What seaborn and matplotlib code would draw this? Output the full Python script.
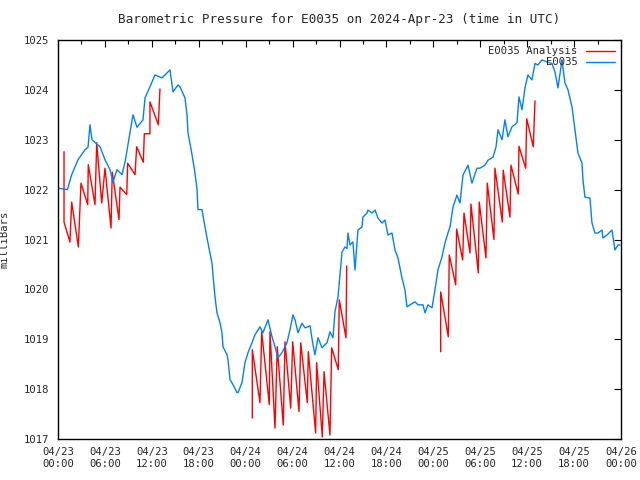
import matplotlib
matplotlib.use("Agg")
import matplotlib.pyplot as plt
import matplotlib.dates as mdates
import seaborn as sns
import pandas as pd
import numpy as np
from matplotlib.lines import Line2D

# station obs (hours after 2024-04-23 00:00 UTC, mb)
obs_hours = [0.0, 1.2, 1.75, 2.56, 3.45, 3.84, 4.09, 4.35, 5.37, 6.01, 6.65, 7.03, 7.54, 8.18,
             8.57, 8.95, 9.59, 10.1, 10.87, 11.13, 11.76, 12.4, 13.3, 13.68, 14.32, 14.71, 15.35,
             15.6, 16.24, 16.5, 16.62, 17.14, 17.52, 17.78, 17.9, 18.41, 18.8, 19.18, 19.69, 19.82,
             20.08, 20.33, 20.72, 20.97, 21.1, 21.61, 21.74, 22.0, 22.38, 22.89, 23.02, 23.53,
             23.91, 24.3, 24.81, 25.19, 25.83, 26.21, 26.85, 27.37, 27.75, 28.13, 28.64, 29.28,
             29.67, 30.05, 30.31, 30.69, 31.2, 31.59, 31.97, 32.23, 32.61, 32.86, 33.25, 33.76,
             34.4, 34.78, 35.17, 35.42, 35.81, 36.06, 36.32, 36.7, 36.96, 37.08, 37.34, 37.72,
             37.98, 38.24, 38.36, 38.87, 39.0, 39.51, 39.64, 40.15, 40.54, 40.92, 41.43, 41.82,
             42.2, 42.71, 43.1, 43.48, 43.99, 44.37, 44.63, 45.01, 45.65, 46.04, 46.68, 46.93,
             47.31, 47.83, 48.21, 48.59, 49.1, 49.49, 49.87, 50.13, 50.51, 51.02, 51.41, 51.79,
             52.43, 52.94, 53.58, 53.96, 54.6, 54.99, 55.63, 56.01, 56.27, 56.78, 57.16, 57.54,
             58.06, 58.7, 58.95, 59.34, 59.72, 60.1, 60.61, 61.0, 61.38, 61.89, 62.53, 63.17,
             63.55, 63.94, 64.45, 64.83, 65.22, 65.73, 66.11, 66.5, 67.01, 67.14, 67.39, 68.03,
             68.29, 68.67, 69.05, 69.57, 69.69, 70.2, 70.84, 71.23, 71.61, 71.87]
obs_mb = [1022.03, 1022.0, 1022.3, 1022.6, 1022.8, 1022.85, 1023.3, 1023.0, 1022.86, 1022.6,
          1022.4, 1022.15, 1022.4, 1022.3, 1022.55, 1022.9, 1023.5, 1023.25, 1023.4, 1023.84,
          1024.06, 1024.3, 1024.24, 1024.3, 1024.4, 1023.96, 1024.1, 1024.06, 1023.84, 1023.5,
          1023.14, 1022.7, 1022.33, 1022.0, 1021.6, 1021.6, 1021.25, 1020.93, 1020.53, 1020.29,
          1019.85, 1019.53, 1019.33, 1019.13, 1018.85, 1018.69, 1018.59, 1018.19, 1018.09,
          1017.93, 1017.93, 1018.13, 1018.53, 1018.73, 1018.93, 1019.09, 1019.25, 1019.13,
          1019.39, 1019.05, 1018.85, 1018.63, 1018.73, 1018.93, 1019.19, 1019.49, 1019.39,
          1019.13, 1019.32, 1019.23, 1019.25, 1019.27, 1018.89, 1018.69, 1019.03, 1018.83,
          1018.93, 1019.15, 1019.03, 1019.55, 1019.85, 1020.3, 1020.75, 1020.85, 1020.82,
          1021.13, 1020.89, 1020.95, 1020.39, 1020.93, 1021.19, 1021.25, 1021.45, 1021.53,
          1021.59, 1021.53, 1021.59, 1021.43, 1021.33, 1021.39, 1021.09, 1021.13, 1020.79,
          1020.63, 1020.23, 1019.99, 1019.65, 1019.69, 1019.75, 1019.69, 1019.69, 1019.53,
          1019.69, 1019.63, 1019.99, 1020.39, 1020.65, 1020.93, 1021.13, 1021.25, 1021.65,
          1021.89, 1021.73, 1022.29, 1022.49, 1022.13, 1022.43, 1022.43, 1022.49, 1022.59,
          1022.65, 1022.85, 1023.2, 1023.0, 1023.4, 1023.06, 1023.26, 1023.34, 1023.86, 1023.6,
          1024.04, 1024.3, 1024.2, 1024.53, 1024.5, 1024.6, 1024.56, 1024.53, 1024.36, 1024.04,
          1024.6, 1024.14, 1024.0, 1023.66, 1023.2, 1022.73, 1022.53, 1022.19, 1021.85,
          1021.83, 1021.33, 1021.13, 1021.13, 1021.19, 1021.03, 1021.09, 1021.19, 1020.79,
          1020.89, 1020.89]

# analysis runs (sawtooth)
ana_run = [1] * 26 + [2] * 26 + [3] * 26
ana_hours = [0.77, 0.77, 1.53, 1.75, 2.6, 2.94, 3.8, 3.87, 4.73, 4.95, 5.59, 6.01, 6.78, 6.94,
             7.8, 7.93, 8.79, 8.91, 9.85, 10.06, 10.91, 11.04, 11.76, 11.76, 12.83, 13.04,
             24.85, 24.85, 25.83, 26.05, 27.02, 27.11, 27.75, 28.04, 28.81, 29.03, 29.76, 30.01,
             30.82, 31.04, 31.88, 32.01, 32.95, 33.08, 33.8, 34.02, 34.78, 35.0, 35.84, 35.97,
             36.83, 36.92,
             48.94, 48.94, 49.91, 50.04, 50.86, 50.98, 51.75, 51.92, 52.69, 52.81, 53.75, 53.87,
             54.73, 54.9, 55.75, 55.88, 56.82, 56.94, 57.8, 57.93, 58.86, 58.95, 59.81, 59.94,
             60.78, 61.0]
ana_mb = [1022.76, 1021.35, 1020.95, 1021.75, 1020.85, 1022.13, 1021.7, 1022.5, 1021.7, 1022.94,
          1021.73, 1022.43, 1021.23, 1022.35, 1021.4, 1022.05, 1021.9, 1022.53, 1022.3, 1022.86,
          1022.55, 1023.12, 1023.12, 1023.76, 1023.3, 1024.02,
          1017.42, 1018.79, 1017.73, 1019.15, 1017.69, 1019.15, 1017.22, 1018.85, 1017.28,
          1018.95, 1017.62, 1018.95, 1017.55, 1018.93, 1017.73, 1018.75, 1017.12, 1018.53,
          1017.04, 1018.35, 1017.08, 1018.83, 1018.39, 1019.79, 1019.03, 1020.47,
          1018.75, 1019.95, 1019.05, 1020.69, 1020.09, 1021.21, 1020.59, 1021.53, 1020.73,
          1021.71, 1020.33, 1021.75, 1020.63, 1022.13, 1021.0, 1022.43, 1021.35, 1022.39,
          1021.45, 1022.49, 1021.91, 1022.87, 1022.43, 1023.42, 1022.86, 1023.78]

t0 = pd.Timestamp("2024-04-23 00:00")
obs = pd.DataFrame({"time": t0 + pd.to_timedelta(obs_hours, unit="h"), "mb": obs_mb})
ana = pd.DataFrame({"time": t0 + pd.to_timedelta(ana_hours, unit="h"), "mb": ana_mb, "run": ana_run})

sns.set_style("white")
plt.rcParams["font.family"] = ["DejaVu Sans Mono"]
plt.rcParams["font.size"] = 7.6

fig = plt.figure(figsize=(6.4, 4.8), dpi=100)
ax = fig.add_axes([58 / 640, 1 - 439 / 480, 563 / 640, 399 / 480])

sns.lineplot(data=ana, x="time", y="mb", units="run", estimator=None, sort=False,
             color="#ff0000", lw=1, ax=ax)
sns.lineplot(data=obs, x="time", y="mb", estimator=None, sort=False,
             color="#0080ff", lw=1, ax=ax)

ax.set_xlim(t0, t0 + pd.Timedelta(hours=72))
ax.set_ylim(1017, 1025)
ax.set_yticks(range(1017, 1026))
ax.xaxis.set_major_locator(mdates.HourLocator(byhour=[0, 6, 12, 18]))
ax.xaxis.set_minor_locator(mdates.HourLocator(byhour=[3, 9, 15, 21]))
ax.xaxis.set_major_formatter(mdates.DateFormatter("%m/%d\n%H:%M"))
ax.tick_params(which="both", direction="in", top=True, right=True, color="black")
ax.tick_params(which="major", length=5, width=0.8, pad=6)
ax.tick_params(which="minor", length=3, width=0.8)
for s in ax.spines.values():
    s.set_color("black")
    s.set_linewidth(1)
ax.set_xlabel("")
ax.set_ylabel("milliBars")
ax.yaxis.set_label_coords(-0.087, 0.5)
ax.set_title("Barometric Pressure for E0035 on 2024-Apr-23 (time in UTC)", pad=12)

handles = [Line2D([], [], color="#ff0000", lw=1), Line2D([], [], color="#0080ff", lw=1)]
ax.legend(handles, ["E0035 Analysis", "E0035"], loc="upper right", frameon=False,
          markerfirst=False, handlelength=2.7, handletextpad=0.8, labelspacing=0.1,
          borderaxespad=0.2, fontsize=7.6)

fig.savefig("out.png", dpi=100)
